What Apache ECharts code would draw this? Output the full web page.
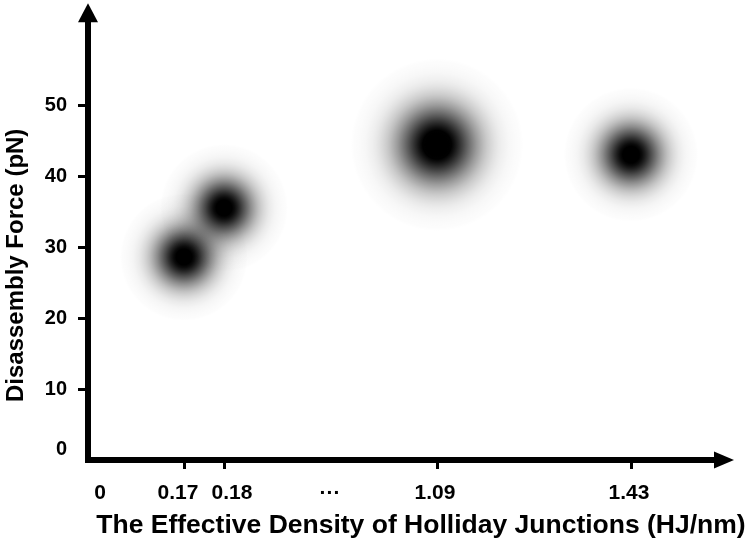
<!DOCTYPE html>
<html>
<head>
<meta charset="utf-8">
<script src="https://cdn.jsdelivr.net/npm/echarts@6/dist/echarts.min.js"></script>
<style>
  html, body { margin: 0; padding: 0; background: #fff; }
  #chart { width: 750px; height: 546px; }
</style>
</head>
<body>
<div id="chart"></div>
<script>
// ---- data ----
const xTickLabels = ['0', '0.17', '0.18', '···', '1.09', '1.43'];
const tickDensities = [0.17, 0.18, 1.09, 1.43];
const densities = [0.17, 0.18, 1.09, 1.43];
const forces = [28.6, 35.5, 44.4, 43.0];
const yTickValues = [0, 10, 20, 30, 40, 50];
const xTitle = 'The Effective Density of Holliday Junctions (HJ/nm)';
const yTitle = 'Disassembly Force (pN)';

// ---- layout: broken (piecewise) x scale, display units along the axis ----
const xKnots = [[0, 12], [0.17, 96], [0.18, 136], [1.09, 349], [1.43, 543]];
function densityToAxis(d) {
  for (let i = 1; i < xKnots.length; i++) {
    const a = xKnots[i - 1], b = xKnots[i];
    if (d <= b[0]) return a[1] + (d - a[0]) / (b[0] - a[0]) * (b[1] - a[1]);
  }
  return xKnots[xKnots.length - 1][1];
}
const xLabelSlots = [12, 90, 144, 242, 347, 541];
const blobSigma = [20, 20, 27, 21];
const blobGain = [1.1, 1.1, 1.15, 1.1];

function blobColor(sigma, k) {
  const R = 3.2 * sigma;
  const stops = [];
  const n = 24;
  for (let i = 0; i <= n; i++) {
    const t = i / n;
    const r = t * R;
    const a = Math.min(1, k * Math.exp(-(r * r) / (2 * sigma * sigma)));
    stops.push({ offset: t, color: 'rgba(0,0,0,' + (i === n ? 0 : a.toFixed(4)) + ')' });
  }
  return { type: 'radial', x: 0.5, y: 0.5, r: 0.5, colorStops: stops };
}

const font = '"Liberation Sans", Arial, sans-serif';
const chart = echarts.init(document.getElementById('chart'), null, { renderer: 'canvas' });

chart.setOption({
  backgroundColor: '#fff',
  animation: false,
  grid: { left: 88, right: 26, top: 12.7, bottom: 86, containLabel: false, outerBoundsMode: 'none' },
  xAxis: {
    type: 'value', min: 0, max: 636,
    name: xTitle, nameLocation: 'middle', nameGap: 52,
    nameTextStyle: { fontFamily: font, fontWeight: 'bold', fontSize: 26.5, color: '#000', padding: [0, 0, 0, 30] },
    axisLine: { show: true, symbol: ['none', 'triangle'], symbolSize: [17, 20],
      lineStyle: { color: '#000', width: 6, cap: 'square' } },
    axisTick: { show: true, length: 9, customValues: tickDensities.map(densityToAxis),
      lineStyle: { color: '#000', width: 3 } },
    axisLabel: { show: true, customValues: xLabelSlots, margin: 23,
      fontFamily: font, fontWeight: 'bold', fontSize: 21, color: '#000',
      formatter: v => { const i = xLabelSlots.indexOf(v); return i >= 0 ? xTickLabels[i] : ''; } },
    splitLine: { show: false }
  },
  yAxis: {
    type: 'value', min: 0, max: 63,
    name: yTitle, nameLocation: 'middle', nameGap: 60, nameRotate: 90,
    nameTextStyle: { fontFamily: font, fontWeight: 'bold', fontSize: 24, color: '#000', padding: [0, 58, 0, 0] },
    axisLine: { show: true, symbol: ['none', 'triangle'], symbolSize: [20, 19],
      lineStyle: { color: '#000', width: 6, cap: 'square' } },
    axisTick: { show: true, length: 10, customValues: yTickValues.filter(v => v > 0),
      lineStyle: { color: '#000', width: 3 } },
    axisLabel: { show: true, customValues: yTickValues, margin: 21,
      fontFamily: font, fontWeight: 'bold', fontSize: 20, color: '#000',
      formatter: v => v === 0 ? '{z|0}' : String(v),
      rich: { z: { fontFamily: font, fontWeight: 'bold', fontSize: 20, color: '#000', padding: [0, 0, 22, 0] } } },
    splitLine: { show: false }
  },
  series: [{
    type: 'scatter',
    silent: true,
    data: densities.map((d, i) => ({
      value: [densityToAxis(d), forces[i]],
      symbolSize: 2 * 3.2 * blobSigma[i],
      itemStyle: { color: blobColor(blobSigma[i], blobGain[i]), opacity: 1 }
    })),
    emphasis: { disabled: true }
  }]
});
</script>
</body>
</html>
